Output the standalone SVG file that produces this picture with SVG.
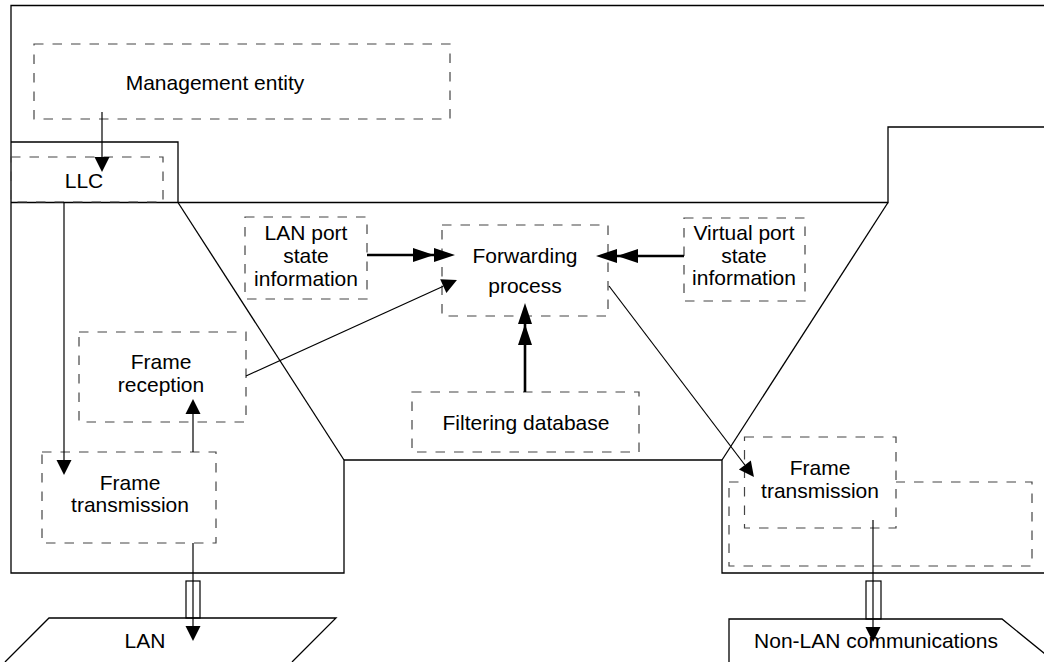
<svg xmlns="http://www.w3.org/2000/svg" width="1044" height="662" viewBox="0 0 1044 662">
<style>
.ol{fill:none;stroke:#000;stroke-width:1.3}
.db{fill:#fff;stroke:#444;stroke-width:1.2;stroke-dasharray:9.5 9}
.dbn{fill:none;stroke:#444;stroke-width:1.2;stroke-dasharray:9.5 9}
.t{font-family:"Liberation Sans",Arial,sans-serif;font-size:21px;fill:#000;text-anchor:middle}
.c{fill:none;stroke:#000;stroke-width:1.2}
.ck{fill:none;stroke:#000;stroke-width:2.6}
</style>
<defs>
<marker id="a" markerUnits="userSpaceOnUse" markerWidth="15" markerHeight="15" refX="0" refY="7.5" orient="auto" overflow="visible"><path d="M0,0 L15,7.5 L0,15 z" fill="#000"/></marker>
<marker id="a2" markerUnits="userSpaceOnUse" markerWidth="42" markerHeight="14" refX="21" refY="7" orient="auto" overflow="visible"><path d="M0,0 L21,7 L0,14 z M21,0 L42,7 L21,14 z" fill="#000"/></marker>
</defs>
<rect width="1044" height="662" fill="#fff"/>
<g id="outline">
<path class="ol" d="M1044,5.5 H11 V573 H344 V460 H722 V573 H1044"/>
<path class="ol" d="M11,142 H178 V202.5"/>
<path class="ol" d="M11,202.5 H888 V127 H1044"/>
<path class="ol" d="M178,202.5 L344,460"/>
<path class="ol" d="M888,202.5 L722,460"/>
</g>
<g id="lan">
<path class="ol" d="M5,662 L49,618 H336 L292,662"/>
<text class="t" x="145" y="648">LAN</text>
</g>
<g id="nonlan">
<path class="ol" d="M729,662 V619 H1002 L1055,662"/>
<text class="t" x="876" y="648">Non-LAN communications</text>
</g>
<g id="mgmt">
<rect class="db" x="34" y="44" width="416" height="75"/>
<text class="t" x="215" y="90">Management entity</text>
</g>
<g id="llc">
<rect class="dbn" x="11" y="157" width="152" height="45"/>
<text class="t" x="84" y="188">LLC</text>
</g>
<g id="lanport">
<rect class="db" x="245" y="217" width="122" height="82"/>
<text class="t" x="306" y="240">LAN port</text>
<text class="t" x="306" y="263">state</text>
<text class="t" x="306" y="286">information</text>
</g>
<g id="fwd">
<rect class="db" x="442" y="225" width="166" height="91"/>
<text class="t" x="525" y="263">Forwarding</text>
<text class="t" x="525" y="293">process</text>
</g>
<g id="vport">
<rect class="db" x="684" y="218" width="121" height="83"/>
<text class="t" x="744" y="240">Virtual port</text>
<text class="t" x="744" y="263">state</text>
<text class="t" x="744" y="285">information</text>
</g>
<g id="frecv">
<rect class="db" x="79" y="332" width="167" height="90"/>
<text class="t" x="161" y="369">Frame</text>
<text class="t" x="161" y="392">reception</text>
</g>
<g id="ftx1">
<rect class="db" x="42" y="452" width="174" height="91"/>
<text class="t" x="130" y="490">Frame</text>
<text class="t" x="130" y="512">transmission</text>
</g>
<g id="fdb">
<rect class="db" x="412" y="392" width="227" height="60"/>
<text class="t" x="526" y="430">Filtering database</text>
</g>
<g id="nonlanport">
<rect class="db" x="729" y="482" width="303" height="84"/>
</g>
<g id="ftx2">
<rect class="db" x="744.5" y="437" width="151.5" height="91"/>
<text class="t" x="820" y="475">Frame</text>
<text class="t" x="820" y="498">transmission</text>
</g>
<g id="connectors">
<line class="c" x1="102" y1="112" x2="102" y2="157" marker-end="url(#a)"/>
<line class="c" x1="64" y1="202" x2="64" y2="460" marker-end="url(#a)"/>
<line class="c" x1="193" y1="452" x2="193" y2="414" marker-end="url(#a)"/>
<line class="c" x1="246" y1="376" x2="443.3" y2="286.2" marker-end="url(#a)"/>
<line class="c" x1="609" y1="286" x2="744.9" y2="465" marker-end="url(#a)"/>
<line class="ck" x1="367" y1="255" x2="434" y2="255" marker-end="url(#a2)"/>
<line class="ck" x1="684" y1="256" x2="617" y2="256" marker-end="url(#a2)"/>
<line class="ck" x1="525" y1="392" x2="525" y2="324" marker-end="url(#a2)"/>
<rect class="c" x="186" y="581" width="14" height="37"/>
<line class="c" x1="193" y1="543" x2="193" y2="626" marker-end="url(#a)"/>
<rect class="c" x="866" y="581" width="15" height="38"/>
<line class="c" x1="873" y1="520" x2="873" y2="627" marker-end="url(#a)"/>
</g>
</svg>
